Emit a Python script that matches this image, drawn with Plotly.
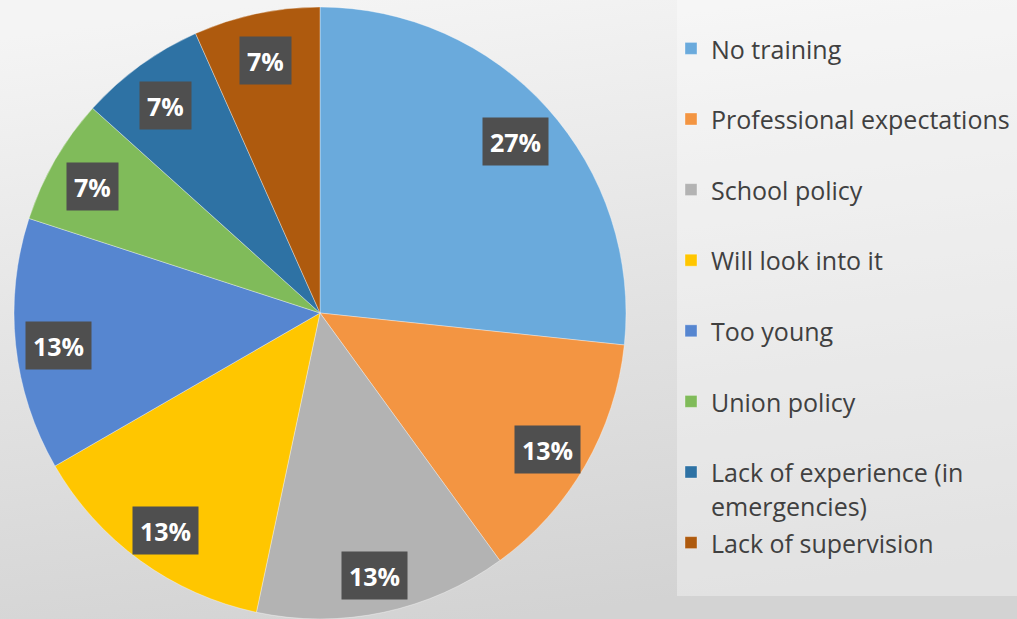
import base64
import math
import plotly.graph_objects as go

# Reasons given (counts out of 15 answers)
labels = ["No training", "Professional expectations", "School policy", "Will look into it",
          "Too young", "Union policy", "Lack of experience (in emergencies)", "Lack of supervision"]
counts = [4, 2, 2, 2, 2, 1, 1, 1]
colors = ["#6aaadc", "#f39542", "#b3b3b3", "#ffc600", "#5686d0", "#80bb5a", "#2e72a4", "#ae5a0e"]

W, H = 1017, 619
R = 306  # pie radius in px
CX, CY = 320, 313  # pie centre in px (from top-left)

# legend texts: each entry two lines tall so the spacing matches the original
def legend_label(s):
    if s == "Lack of experience (in emergencies)":
        parts = ["Lack of experience (in", "emergencies)"]
    else:
        parts = [s, " "]
    return "<br>".join(f"<span style='font-size:25px'>{p}</span>" if p.strip() else p for p in parts)

fig = go.Figure(go.Pie(
    labels=[legend_label(l) for l in labels],
    values=counts,
    marker=dict(colors=colors, line=dict(color="rgba(255,255,255,0.35)", width=1)),
    sort=False,
    direction="clockwise",
    rotation=0,
    textinfo="none",
    hoverinfo="label+percent",
    domain=dict(x=[(CX - R) / W, (CX + R) / W], y=[max(0, (H - CY - R) / H), (H - CY + R) / H]),
))

# percentage labels in dark boxes, near the outer edge of each slice
total = sum(counts)
start = 0
annotations = []
for c in counts:
    mid = (start + c / 2) / total * 2 * math.pi
    start += c
    px = CX + 0.86 * R * math.sin(mid)
    py = CY + 5 - 0.86 * R * math.cos(mid)
    annotations.append(dict(
        x=px / W, y=1 - py / H, xref="paper", yref="paper", showarrow=False,
        xanchor="center", yanchor="middle",
        text=f"<b>{round(c / total * 100)}%</b>",
        font=dict(family="Open Sans", size=25, color="white"),
        bgcolor="#4f4f4f", borderpad=7, height=33,
    ))

# soft grey gradient background
svg = ("<svg xmlns='http://www.w3.org/2000/svg' width='100' height='100' preserveAspectRatio='none'>"
       "<defs><linearGradient id='g' x1='0.3' y1='0' x2='0.5' y2='1'>"
       "<stop offset='0' stop-color='#f4f4f4'/><stop offset='1' stop-color='#d3d3d3'/>"
       "</linearGradient></defs><rect width='100' height='100' fill='url(#g)'/></svg>")
bg = "data:image/svg+xml;base64," + base64.b64encode(svg.encode()).decode()

fig.update_layout(
    width=W, height=H,
    margin=dict(l=0, r=0, t=0, b=0),
    paper_bgcolor="#e6e6e6",
    images=[dict(source=bg, xref="paper", yref="paper", x=0, y=1, sizex=1, sizey=1,
                 sizing="stretch", xanchor="left", yanchor="top", layer="below")],
    shapes=[dict(type="rect", xref="paper", yref="paper", x0=677 / W, x1=1, y0=1 - 596 / H, y1=1,
                 fillcolor="rgba(255,255,255,0.35)", line=dict(width=0), layer="below")],
    annotations=annotations,
    showlegend=True,
    legend=dict(
        x=671 / W, y=1 - 25 / H, xanchor="left", yanchor="top",
        font=dict(family="Open Sans", size=26, color="#404040"),
        bgcolor="rgba(0,0,0,0)", valign="top",
    ),
)

fig.write_html("out.html", config={"displayModeBar": False},
               post_script="document.body.style.margin='0';document.body.style.overflow='hidden';")
